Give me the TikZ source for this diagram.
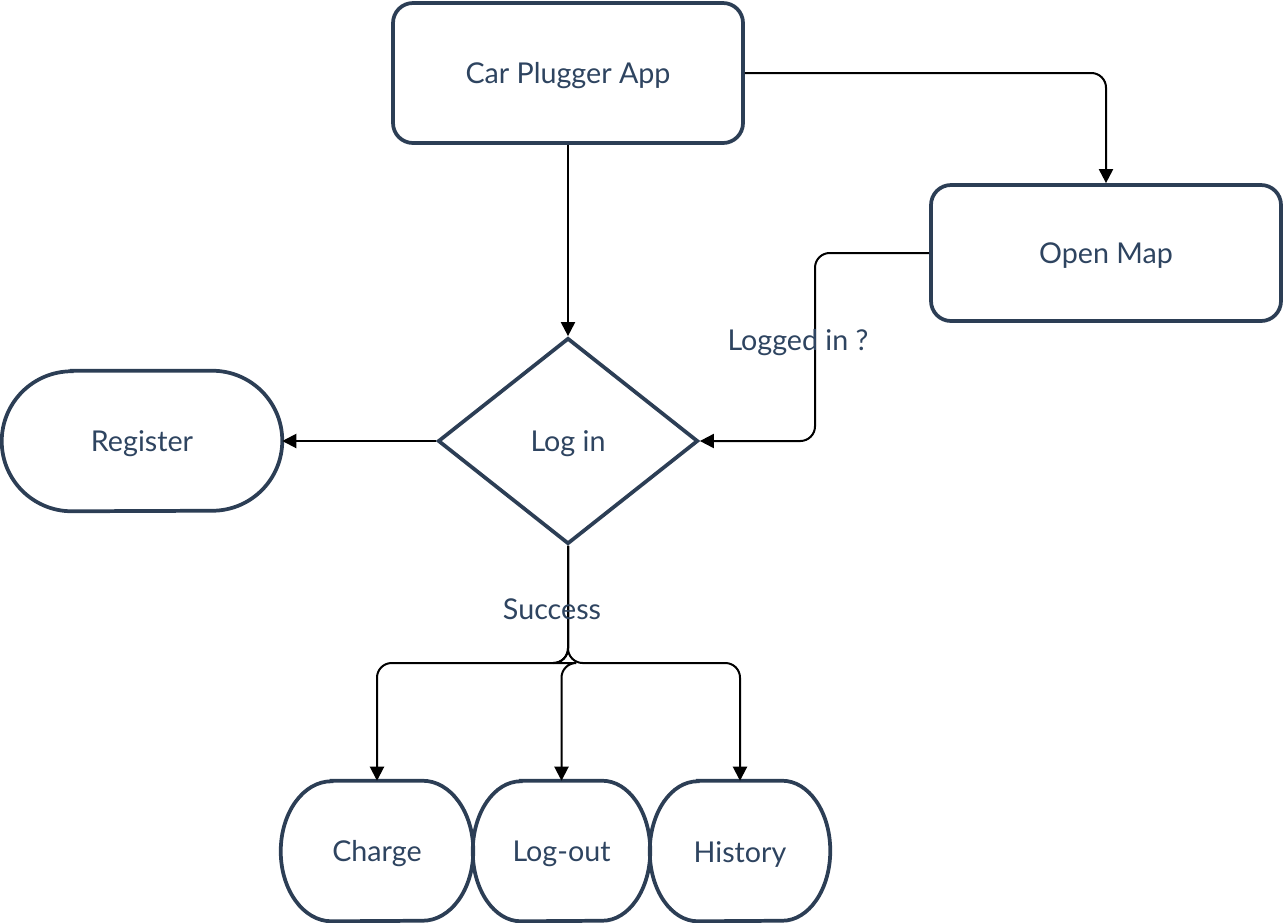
\documentclass[tikz,border=0pt]{standalone}
\usepackage{fontspec}
\setmainfont{Lato}
\usetikzlibrary{shapes.geometric,arrows.meta}
\definecolor{navy}{HTML}{2C3E55}
\definecolor{txt}{HTML}{2E4460}
\newcommand\termpath[3]{%
  \draw[shapeline] ([xshift=#2]#1.north west) -- ([xshift=-#2]#1.north east)
    arc[start angle=90,end angle=-90,x radius=#2,y radius=#3]
    -- ([xshift=#2]#1.south west)
    arc[start angle=270,end angle=90,x radius=#2,y radius=#3] -- cycle;}
\tikzset{
  shapeline/.style={draw=navy,line width=2.8pt},
  lbl/.style={text=txt,font=\fontsize{21.5}{24}\selectfont},
  rbox/.style={shapeline,rounded corners=15pt,inner sep=0pt,minimum width=262.5pt},
  term/.style={inner sep=0pt,minimum height=105pt},
  dec/.style={shapeline,diamond,inner sep=0pt,minimum width=195pt,minimum height=154.5pt},
  conn/.style={draw=black,line width=1.5pt,rounded corners=11pt,-{Triangle[length=10.5pt,width=10.5pt]}},
  edgelbl/.style={lbl,inner sep=0pt}
}
\begin{document}
\begin{tikzpicture}[x=0.75pt,y=-0.75pt]
\useasboundingbox (0,0) rectangle (1284,922);
\node[rbox,minimum height=105pt] (app) at (568,73) {};
\node[rbox,minimum height=102pt] (map) at (1106,253) {};
\node[dec] (login) at (568,441) {};
\node[term,minimum width=210pt] (reg) at (142,441) {};
\termpath{reg}{52.5pt}{52.5pt}
\node[term,minimum width=144pt] (charge) at (377,851) {};
\termpath{charge}{38pt}{52.5pt}
\node[term,minimum width=132.75pt] (logout) at (561.5,851) {};
\termpath{logout}{36pt}{52.5pt}
\node[term,minimum width=135pt] (hist) at (740,851) {};
\termpath{hist}{36pt}{52.5pt}

\node[lbl] (appt) at (568,76) {Car Plugger App};
\node[lbl] (mapt) at (1106,256) {Open Map};
\node[lbl] (logint) at (568,444) {Log in};
\node[lbl] (regt) at (142,444) {Register};
\node[lbl] (charget) at (377,854) {Charge};
\node[lbl] (logoutt) at (561.5,854) {Log-out};
\node[lbl] (histt) at (740,854) {History};

\coordinate (split) at (568,663);
\draw[conn] (app.south) -- (login.north);
\draw[conn] (app.east) -| (map.north);
\draw[conn] (map.west) -- (815,253) -- (815,441) -- (login.east);
\draw[conn] (login.west) -- (reg.east);
\draw[conn] (login.south) -- (split) -| (charge.north);
\draw[conn] (login.south) -- (split) -| (hist.north);
\draw[conn] (login.south) -- (split) -| (logout.north);

\node[edgelbl] (lglbl) at (798,343) {Logged in ?};
\node[edgelbl] (sclbl) at (552,609) {Success};
\end{tikzpicture}
\end{document}
